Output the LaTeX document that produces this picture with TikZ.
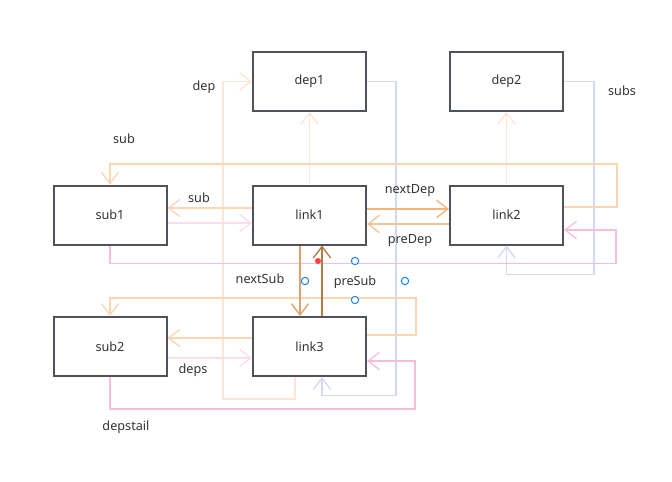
\documentclass[tikz,border=0pt]{standalone}
\usepackage{fontspec}
\setmainfont{Noto Sans}
\usetikzlibrary{arrows.meta,calc}

\definecolor{boxgray}{HTML}{4D5358}
\definecolor{peach}{HTML}{FDE6D3}
\definecolor{suborange}{HTML}{F9D6B4}
\definecolor{deporange}{HTML}{F5B478}
\definecolor{subbrown}{HTML}{B57B46}
\definecolor{loopink}{HTML}{F6BEDA}
\definecolor{softpink}{HTML}{FADCEA}
\definecolor{lavender}{HTML}{D5D7F8}
\definecolor{handleblue}{HTML}{1E88F0}

\begin{document}
\begin{tikzpicture}[
        x=0.75pt, y=-0.75pt,
        font=\fontsize{9.5pt}{11pt}\selectfont,
        >={Straight Barb[length=8.5pt,width=13pt]},
        box/.style={draw=boxgray, line width=1.5pt, fill=white, minimum width=84.75pt, minimum height=44.25pt, text=black!80},
        conn/.style={->, line width=1pt},
        tag/.style={text=black!80},
        handle/.style={circle, draw=handleblue, line width=0.8pt, fill=white, minimum size=5.5pt, inner sep=0pt}
    ]
        \useasboundingbox (0,0) rectangle (672,482);

        \node[box] (dep1) at (309.5, 81.5) {dep1};
        \node[box] (dep2) at (506.5, 81.5) {dep2};
        \node[box] (sub1) at (110, 215) {sub1};
        \node[box] (link1) at (309.5, 215) {link1};
        \node[box] (link2) at (506.5, 215) {link2};
        \node[box] (sub2) at (110, 346.5) {sub2};
        \node[box] (link3) at (309.5, 346.5) {link3};

        % dep links
        \draw[conn, peach] ($(link3.south)+(-14.5,0)$) -- ++(0,22) -- ++(-72,0) |- (dep1.west);
        \draw[conn, peach] (link1.north) -- (dep1.south);
        \draw[conn, peach] (link2.north) -- (dep2.south);

        % subs back to link
        \draw[conn, lavender] (dep1.east) -| ++(29,314) -| ($(link3.south)+(12.5,0)$);
        \draw[conn, lavender] (dep2.east) -| ++(30,193) -| (link2.south);

        % sub links
        \draw[conn, suborange] ($(link2.east)+(0,-8)$) -| ++(53,-43) -| (sub1.north);
        \draw[conn, suborange] ($(link3.east)+(0,-11.5)$) -| ++(49,-37) -| (sub2.north);
        \draw[conn, suborange] ($(link1.west)+(0,-7)$) -- ($(sub1.east)+(0,-7)$);
        \draw[conn, suborange] ($(link3.west)+(0,-8.5)$) -- ($(sub2.east)+(0,-8.5)$);

        % deps and depstail
        \draw[conn, softpink] ($(sub1.east)+(0,8)$) -- ($(link1.west)+(0,8)$);
        \draw[conn, softpink] ($(sub2.east)+(0,11.5)$) -- ($(link3.west)+(0,11.5)$);
        \draw[conn, loopink] (sub1.south) |- ++(506,18) |- ($(link2.east)+(0,15)$);
        \draw[conn, loopink] (sub2.south) |- ++(305,32) |- ($(link3.east)+(0,14.5)$);

        % next / pre
        \draw[conn, deporange] ($(link1.east)+(0,-6)$) -- ($(link2.west)+(0,-6)$);
        \draw[conn, deporange!80!white] ($(link2.west)+(0,9)$) -- ($(link1.east)+(0,9)$);
        \draw[conn, deporange!90!black] ($(link1.south)+(-9.5,0)$) -- ($(link3.north)+(-9.5,0)$);
        \draw[conn, subbrown] ($(link3.north)+(12.5,0)$) -- ($(link1.south)+(12.5,0)$);

        \node[tag] (ldep) at (204, 87) {dep};
        \node[tag] (lsubtop) at (124, 139) {sub};
        \node[tag] (lsub) at (199, 198) {sub};
        \node[tag] (lnextdep) at (410, 190) {nextDep};
        \node[tag] (lpredep) at (410, 240) {preDep};
        \node[tag] (lsubs) at (622, 91) {subs};
        \node[tag] (lnextsub) at (260, 279) {nextSub};
        \node[tag] (lpresub) at (355, 282) {preSub};
        \node[tag] (ldeps) at (193, 370) {deps};
        \node[tag] (ldepstail) at (126, 427) {depstail};

        \fill[red!75!white] (318, 261) circle (3);
        \node[handle] (h1) at (305, 281) {};
        \node[handle] (h2) at (355, 261) {};
        \node[handle] (h3) at (355, 300) {};
        \node[handle] (h4) at (405, 281) {};
    \end{tikzpicture}
\end{document}
